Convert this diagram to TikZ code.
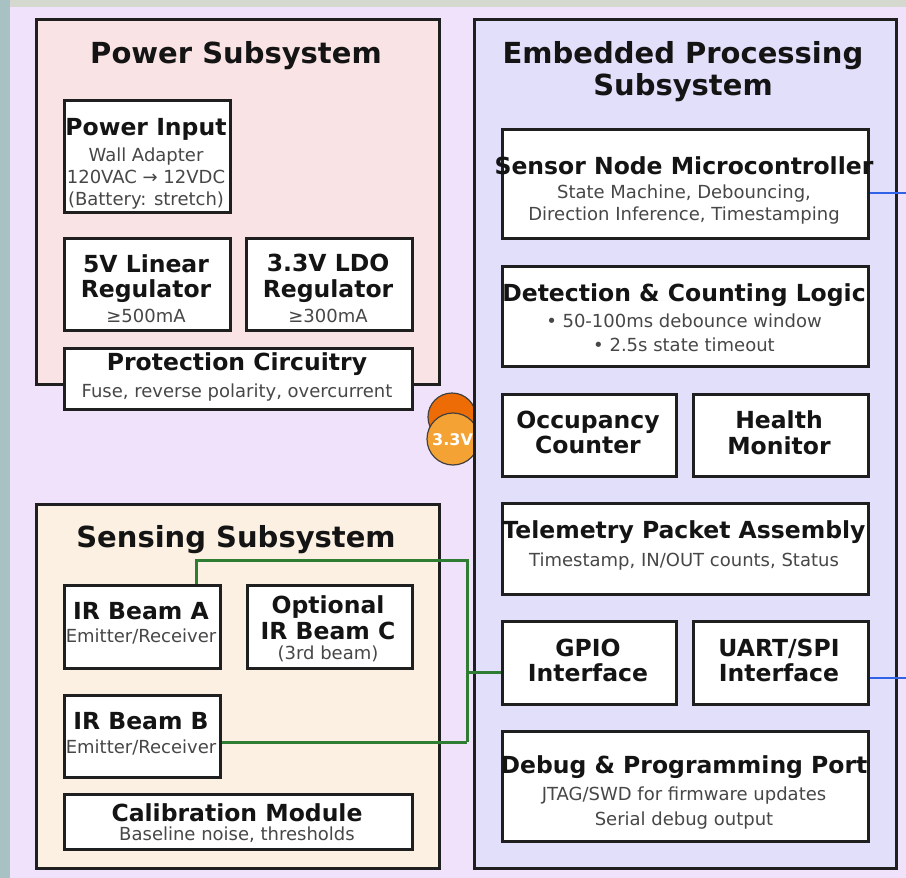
\documentclass[tikz,border=0pt]{standalone}
\usepackage{fontspec}
\setmainfont{DejaVu Sans}

\definecolor{pagebg}{HTML}{F0E2FA}
\definecolor{edgeteal}{HTML}{A8C2C4}
\definecolor{edgetop}{HTML}{D5D8CE}
\definecolor{powfill}{HTML}{FAE3E4}
\definecolor{senfill}{HTML}{FBF0E2}
\definecolor{embfill}{HTML}{E1DFFA}
\definecolor{orangedk}{HTML}{EE6C05}
\definecolor{orangelt}{HTML}{F5A234}
\definecolor{wiregreen}{HTML}{2E7D32}
\definecolor{wireblue}{HTML}{2F62E6}

\tikzset{
    subsys/.style={draw=black!88, line width=3.2pt, anchor=north west, inner sep=0},
    unit/.style={draw=black!88, line width=3pt, fill=white, anchor=north west, inner sep=0},
    ttl/.style={font=\bfseries\fontsize{29}{32}\selectfont, align=center, text=black!92, inner sep=0, yshift=-3pt},
    hd/.style={font=\bfseries\fontsize{23.5}{25.5}\selectfont, align=center, text=black!92, inner sep=0, yshift=-2.5pt},
    sb/.style={font=\fontsize{18}{22}\selectfont, align=center, text=black!72, inner sep=0, yshift=-2.5pt},
    gline/.style={wiregreen, line width=3pt},
    bline/.style={wireblue, line width=2.6pt}
}

\begin{document}
\begin{tikzpicture}[x=1pt, y=-1pt]
    \useasboundingbox (0,0) rectangle (906,878);
    \fill[pagebg] (0,0) rectangle (906,878);
    \fill[edgetop] (0,0) rectangle (906,7);
    \fill[edgeteal] (0,0) rectangle (10,878);

    % power subsystem
    \node[subsys, fill=powfill, minimum width=403pt, minimum height=365pt] (power) at (35,18) {};
    \node[ttl] (power-t) at (236,53) {Power Subsystem};
    \foreach \nm/\xa/\ya/\xb/\yb in {pin/63/99/229/211, reg5/63/237/229/329, ldo/245/237/411/329, prot/63/347/411/408}
        {
            \node[unit, minimum width={(\xb-\xa)*1pt}, minimum height={(\yb-\ya)*1pt}] (\nm) at (\xa,\ya) {};
        }
    \node[hd] (pin-t) at (146,127) {Power Input};
    \node[sb] (pin-s) at (146,176) {Wall Adapter\\120VAC → 12VDC\\(Battery: stretch)};
    \node[hd] (reg5-t) at (146,276) {5V Linear\\Regulator};
    \node[sb] (reg5-s) at (146,313) {≥500mA};
    \node[hd] (ldo-t) at (328,276) {3.3V LDO\\Regulator};
    \node[sb] (ldo-s) at (328,313) {≥300mA};
    \node[hd] (prot-t) at (237,362) {Protection Circuitry};
    \node[sb] (prot-s) at (237,390) {Fuse, reverse polarity, overcurrent};

    % sensing subsystem
    \node[subsys, fill=senfill, minimum width=403pt, minimum height=364pt] (sensing) at (35,503) {};
    \node[ttl] (sensing-t) at (236,537) {Sensing Subsystem};
    \foreach \nm/\xa/\ya/\xb/\yb in {irA/63/584/219/667, irC/246/584/411/667, irB/63/694/219/776, cal/63/793/411/848}
        {
            \node[unit, minimum width={(\xb-\xa)*1pt}, minimum height={(\yb-\ya)*1pt}] (\nm) at (\xa,\ya) {};
        }
    \node[hd] (irA-t) at (141,609) {IR Beam A};
    \node[sb] (irA-s) at (141,634) {Emitter/Receiver};
    \node[hd] (irC-t) at (328,615) {Optional\\IR Beam C};
    \node[sb] (irC-s) at (328,651) {(3rd beam)};
    \node[hd] (irB-t) at (141,719) {IR Beam B};
    \node[sb] (irB-s) at (141,745) {Emitter/Receiver};
    \node[hd] (cal-t) at (237,810) {Calibration Module};
    \node[sb] (cal-s) at (237,832) {Baseline noise, thresholds};

    % 3.3V rail badge, partly under the processing box
    \node[circle, draw=black!75, line width=1.2pt, fill=orangedk, minimum size=48pt, inner sep=0] (rail-a) at (452,417) {};
    \node[circle, draw=black!75, line width=1.2pt, fill=orangelt, minimum size=52pt, inner sep=0] (rail-b) at (453,439) {};
    \node[font=\bfseries\fontsize{16}{18}\selectfont, text=white, anchor=west, inner sep=0] (rail-t) at (432,440) {3.3V};

    % embedded processing subsystem
    \node[subsys, fill=embfill, minimum width=422pt, minimum height=849pt] (embedded) at (473,18) {};
    \node[ttl] (embedded-t) at (683,69) {Embedded Processing\\Subsystem};
    \foreach \nm/\xa/\ya/\xb/\yb in {mcu/501/128/867/237, det/501/265/867/365, occ/501/393/675/475, hlth/692/393/867/475,
                                     tele/501/502/867/593, gpio/501/620/675/703, uart/692/620/867/703, dbg/501/730/867/840}
        {
            \node[unit, minimum width={(\xb-\xa)*1pt}, minimum height={(\yb-\ya)*1pt}] (\nm) at (\xa,\ya) {};
        }
    \node[hd] (mcu-t) at (684,163) {Sensor Node Microcontroller};
    \node[sb] (mcu-s) at (684,202) {State Machine, Debouncing,\\Direction Inference, Timestamping};
    \node[hd] (det-t) at (684,293) {Detection \& Counting Logic};
    \node[sb] (det-s) at (684,330) {• 50-100ms debounce window\\[2pt]• 2.5s state timeout};
    \node[hd] (occ-t) at (588,430) {Occupancy\\Counter};
    \node[hd] (hlth-t) at (779,430) {Health\\Monitor};
    \node[hd] (tele-t) at (684,530) {Telemetry Packet Assembly};
    \node[sb] (tele-s) at (684,559) {Timestamp, IN/OUT counts, Status};
    \node[hd] (gpio-t) at (588,658) {GPIO\\Interface};
    \node[hd] (uart-t) at (779,658) {UART/SPI\\Interface};
    \node[hd] (dbg-t) at (684,765) {Debug \& Programming Port};
    \node[sb] (dbg-s) at (684,806) {JTAG/SWD for firmware updates\\[3pt]Serial debug output};

    % wiring
    \coordinate (ja) at (196,560);
    \coordinate (jt) at (467,560);
    \coordinate (jg) at (467,672);
    \coordinate (jb) at (467,742);
    \coordinate (outA) at (906,193);
    \coordinate (outB) at (906,678);

    \draw[gline] (irA.north -| ja) -- (ja) -- (jt) -- (jb);
    \draw[gline] (irB.east |- jb) -- (jb);
    \draw[gline] (jg) -- (gpio.west |- jg);
    \draw[bline] (mcu.east |- outA) -- (outA);
    \draw[bline] (uart.east |- outB) -- (outB);
\end{tikzpicture}
\end{document}
